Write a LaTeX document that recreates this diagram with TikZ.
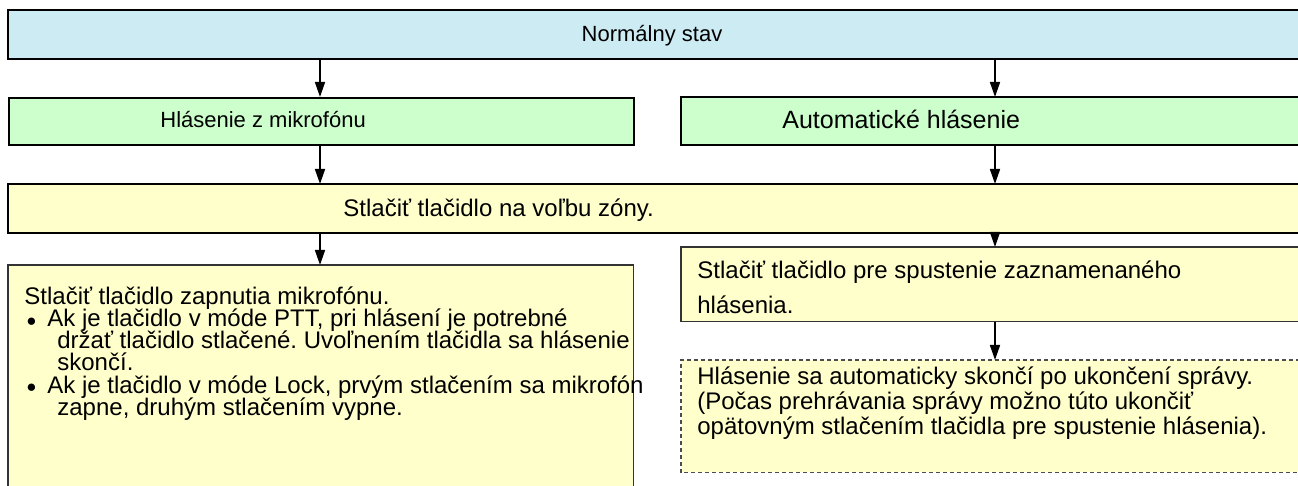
\documentclass[tikz,border=0pt]{standalone}
\usepackage{fontspec}
\setmainfont{Liberation Sans}
\usepackage{tikz}
\usetikzlibrary{arrows.meta, positioning}
\usepackage{xcolor}
\definecolor{stateBg}{RGB}{205, 235, 243}
\definecolor{modeBg}{RGB}{204, 255, 204}
\definecolor{stepBg}{RGB}{255, 255, 204}
\newcommand{\dotmark}{\raisebox{0.1pt}{\fontsize{8.5}{8.5}\selectfont ●}}
\frenchspacing

\begin{document}
\begin{tikzpicture}[x=0.5pt, y=-0.5pt, >={Triangle[length=7.5pt, width=5pt]},
  titlebox/.style={draw, line width=1pt, anchor=north west, inner sep=0pt},
  openbox/.style={anchor=north west, inner sep=0pt},
  thickrim/.style={line width=1pt},
  thinrim/.style={draw=black!80, line width=0.6pt},
  titletext/.style={inner sep=0pt, font=\fontsize{11}{13}\selectfont},
  bodytext/.style={inner sep=0pt, align=left, anchor=north west,
    font=\fontsize{12}{#1}\selectfont\setlength{\lineskiplimit}{-20pt}},
  flow/.style={->, line width=0.8pt}]
  \useasboundingbox (0,0) rectangle (1298,486);
  % boxes (those running off the page are left open on that side)
  \node[openbox, fill=stateBg, minimum width=645pt, minimum height=24pt] (normal) at (8,10) {};
  \node[titlebox, fill=modeBg, minimum width=312.5pt, minimum height=23.5pt] (mic) at (8,97) {};
  \node[openbox, fill=modeBg, minimum width=309pt, minimum height=23.5pt] (auto) at (681,97) {};
  \node[openbox, fill=stepBg, minimum width=645pt, minimum height=24pt] (zone) at (8,184) {};
  \node[openbox, fill=stepBg, minimum width=312.5pt, minimum height=112pt] (micbtn) at (8,265) {};
  \node[openbox, fill=stepBg, minimum width=309pt, minimum height=37pt] (playbtn) at (681,247) {};
  \node[openbox, fill=stepBg, minimum width=309pt, minimum height=56pt] (autoend) at (681,360) {};
  \draw[thickrim] (normal.north east) -- (normal.north west) -- (normal.south west) -- (normal.south east);
  \draw[thickrim] (auto.north east) -- (auto.north west) -- (auto.south west) -- (auto.south east);
  \draw[thickrim] (zone.north east) -- (zone.north west) -- (zone.south west) -- (zone.south east);
  \draw[thinrim] (micbtn.south west) -- (micbtn.north west) -- (micbtn.north east) -- (micbtn.south east);
  \draw[thinrim] (playbtn.north east) -- (playbtn.north west) -- (playbtn.south west) -- (playbtn.south east);
  \draw[thinrim, draw=black!70, dash pattern=on 2pt off 1.5pt] (autoend.north east) -- (autoend.north west) -- (autoend.south west) -- (autoend.south east);
  % texts
  \node[titletext, anchor=base] (normaltxt) at (652,41.5) {Normálny stav};
  \node[titletext, anchor=base west] (mictxt) at (160,128) {Hlásenie z mikrofónu};
  \node[titletext, anchor=base west, font=\fontsize{12.5}{14}\selectfont] (autotxt) at (782,129) {Automatické hlásenie};
  \node[inner sep=0pt, font=\fontsize{12}{14}\selectfont, anchor=base west] (zonetxt) at (343,216.5) {Stlačiť tlačidlo na voľbu zóny.};
  \node[bodytext=11.1pt] (micbtntxt) at (24,284) {\rule{0pt}{10pt}Stlačiť tlačidlo zapnutia mikrofónu.\\
    \makebox[11.5pt][l]{\hspace{1pt}\dotmark}Ak je tlačidlo v móde PTT, pri hlásení je potrebné\\
    \hspace*{16.5pt}držať tlačidlo stlačené. Uvoľnením tlačidla sa hlásenie\\
    \hspace*{16.5pt}skončí.\\
    \makebox[11.5pt][l]{\hspace{1pt}\dotmark}Ak je tlačidlo v móde Lock, prvým stlačením sa mikrofón\\
    \hspace*{16.5pt}zapne, druhým stlačením vypne.};
  \node[bodytext=17.5pt] (playtxt) at (697,258) {\rule{0pt}{10pt}Stlačiť tlačidlo pre spustenie zaznamenaného\\
    hlásenia.};
  \node[bodytext=12.5pt] (autoendtxt) at (697,364) {\rule{0pt}{10pt}Hlásenie sa automaticky skončí po ukončení správy.\\
    (Počas prehrávania správy možno túto ukončiť\\
    opätovným stlačením tlačidla pre spustenie hlásenia).};
  % connectors
  \coordinate (colL) at (320,0);
  \coordinate (colR) at (995,0);
  \draw[flow] (normal.south -| colL) -- (mic.north -| colL);
  \draw[flow] (normal.south -| colR) -- (auto.north -| colR);
  \draw[flow] (mic.south -| colL) -- (zone.north -| colL);
  \draw[flow] (auto.south -| colR) -- (zone.north -| colR);
  \draw[flow] (zone.south -| colL) -- (micbtn.north -| colL);
  \draw[flow] (zone.south -| colR) -- (playbtn.north -| colR);
  \draw[flow] (playbtn.south -| colR) -- (autoend.north -| colR);
\end{tikzpicture}
\end{document}
